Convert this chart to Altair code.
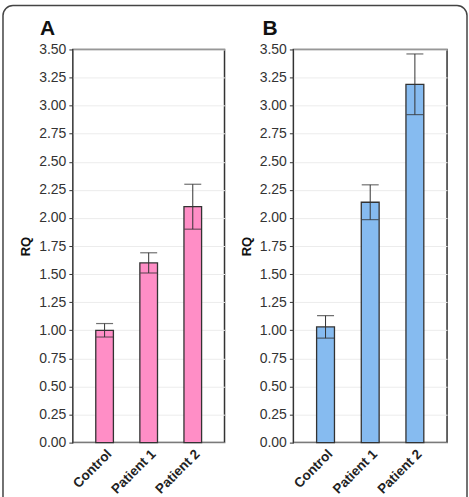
import altair as alt
import pandas as pd

categories = ["Control", "Patient 1", "Patient 2"]
values_a = [1.00, 1.60, 2.10]
errors_a = [0.06, 0.09, 0.20]
values_b = [1.03, 2.14, 3.19]
errors_b = [0.10, 0.155, 0.27]
y_ticks = [0.0, 0.25, 0.5, 0.75, 1.0, 1.25, 1.5, 1.75, 2.0, 2.25, 2.5, 2.75, 3.0, 3.25, 3.5]

FONT = "Liberation Sans"


def panel(values, errors, color, label, width, dx, with_border=False):
    df = pd.DataFrame({
        "cat": categories,
        "value": values,
        "lo": [v - e for v, e in zip(values, errors)],
        "hi": [v + e for v, e in zip(values, errors)],
    })
    x = alt.X("cat:N", sort=categories,
              scale=alt.Scale(paddingInner=0.6, paddingOuter=0.52),
              axis=alt.Axis(title=None, labelAngle=-45, labelFontWeight="bold",
                            labelFontSize=13.5, ticks=False, domain=False,
                            labelPadding=4, labelColor="#222", labelFont=FONT,
                            grid=False))
    yscale = alt.Scale(domain=[0, 3.5], nice=False, zero=True)
    yaxis = alt.Axis(title="RQ", values=y_ticks, format=".2f",
                     labelOverlap=False,
                     titleFontWeight="bold", titleFontSize=13,
                     titleFont=FONT, titleColor="#111", titlePadding=6)
    base = alt.Chart(df).encode(x=x)
    bars = base.mark_bar(fill=color, stroke="#333", strokeWidth=1.3).encode(
        y=alt.Y("value:Q", scale=yscale, axis=yaxis))
    rule = base.mark_rule(color="#333", strokeWidth=1).encode(
        y=alt.Y("lo:Q", scale=yscale, axis=yaxis), y2="hi:Q")
    tick_lo = base.mark_tick(size=17, thickness=1.2, color="#333").encode(
        y=alt.Y("lo:Q", scale=yscale, axis=yaxis))
    tick_hi = base.mark_tick(size=17, thickness=1.2, color="#333").encode(
        y=alt.Y("hi:Q", scale=yscale, axis=yaxis))
    title = alt.Chart(pd.DataFrame({"t": [label]})).mark_text(
        font=FONT, fontSize=21, fontWeight="bold", color="#111",
        align="left", baseline="alphabetic"
    ).encode(text="t:N", x=alt.value(dx), y=alt.value(-14))
    layers = [bars, rule, tick_lo, tick_hi, title]
    if with_border:
        border = alt.Chart(pd.DataFrame({"d": [0]})).mark_rect(
            fillOpacity=0, stroke="#444", strokeWidth=1.5, cornerRadius=10
        ).encode(x=alt.value(-70), x2=alt.value(395),
                 y=alt.value(-44), y2=alt.value(475))
        layers.append(border)
    return alt.layer(*layers).properties(width=width, height=394)


a = panel(values_a, errors_a, "#FF8EC6", "A", 152, -33, with_border=True)
b = panel(values_b, errors_b, "#86BBF0", "B", 154, -31)

chart = alt.hconcat(a, b, spacing=69, bounds="flush").properties(
    padding={"left": 1, "top": 3, "right": 0, "bottom": 0},
    background="white",
).configure_view(
    stroke="#333", strokeWidth=1.5
).configure_axisY(
    gridColor="#ececec", gridWidth=1, tickColor="#333", tickSize=4,
    domain=False, labelFont=FONT, labelFontSize=14, labelColor="#333",
    labelPadding=3, labelOverlap=False
)

chart.save("out.html", embed_options={"renderer": "svg", "actions": False})
